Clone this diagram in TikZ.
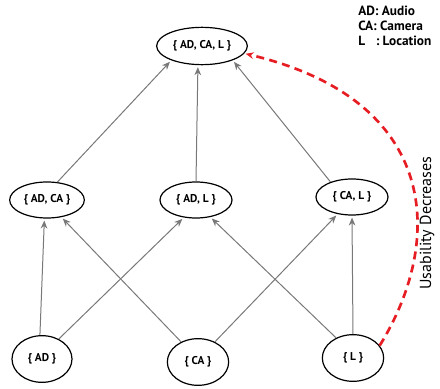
\documentclass[tikz,border=0pt]{standalone}
\usepackage{fontspec}
\setmainfont{PT Sans}
\usetikzlibrary{shapes.geometric,arrows.meta}
\definecolor{linegray}{RGB}{120,120,120}
\definecolor{usered}{RGB}{230,30,36}
\tikzset{
    subset/.style={draw, ellipse, line width=0.9pt, inner sep=0pt,
        font=\fontsize{8.5}{10}\selectfont\bfseries},
    uparrow/.style={->, draw=linegray, line width=0.75pt, shorten >=1.5pt}
}
\begin{document}
\begin{tikzpicture}[>={Stealth[length=6pt,width=5pt]}, x=0.75pt, y=-0.75pt]
    \useasboundingbox (0,0) rectangle (440,389);

    % the set at the top
    \node[subset, minimum width=68pt, minimum height=28pt] (adcal) at (202,46) {\{ AD, CA, L \}};

    % the sets with two elements
    \node[subset, minimum width=56pt, minimum height=27pt] (adca) at (47,200) {\{ AD, CA \}};
    \node[subset, minimum width=54pt, minimum height=27pt] (adl) at (196,200) {\{ AD, L \}};
    \node[subset, minimum width=54pt, minimum height=27pt] (cal) at (352,197) {\{ CA, L \}};

    % the sets with one element
    \node[subset, minimum width=45pt, minimum height=35pt] (ad) at (42,359) {\{ AD \}};
    \node[subset, minimum width=46pt, minimum height=35pt] (ca) at (198,362) {\{ CA \}};
    \node[subset, minimum width=46pt, minimum height=35pt] (l) at (353,358) {\{ L \}};

    % arrows from the middle row to the top
    \draw[uparrow] (adca.60) -- (adcal.205);
    \draw[uparrow] (adl.north) -- (adcal.258);
    \draw[uparrow] (cal.145) -- (adcal.-25);

    % arrows from the bottom row to the middle row
    \draw[uparrow] (ad.95) -- (adca.262);
    \draw[uparrow] (ad.50) -- (adl.235);
    \draw[uparrow] (ca.130) -- (adca.-50);
    \draw[uparrow] (ca.50) -- (cal.230);
    \draw[uparrow] (l.130) -- (adl.-50);
    \draw[uparrow] (l.north) -- (cal.south);

    % the red dashed curve
    \draw[->, usered, line width=2pt, dash pattern=on 6pt off 4pt, shorten >=1pt]
        (l.25) .. controls (445,240) and (440,100) .. (adcal.-10);
    \node[rotate=90, font=\fontsize{12}{14}\selectfont] (usab) at (427,223) {Usability Decreases};

    % the legend
    \node[anchor=north west, inner sep=0pt, align=left, font=\fontsize{10}{11.25}\selectfont\bfseries] (legend) at (358,6)
        {AD: Audio\\ CA: Camera\\ L\hspace{0.8em}: Location};
\end{tikzpicture}
\end{document}
